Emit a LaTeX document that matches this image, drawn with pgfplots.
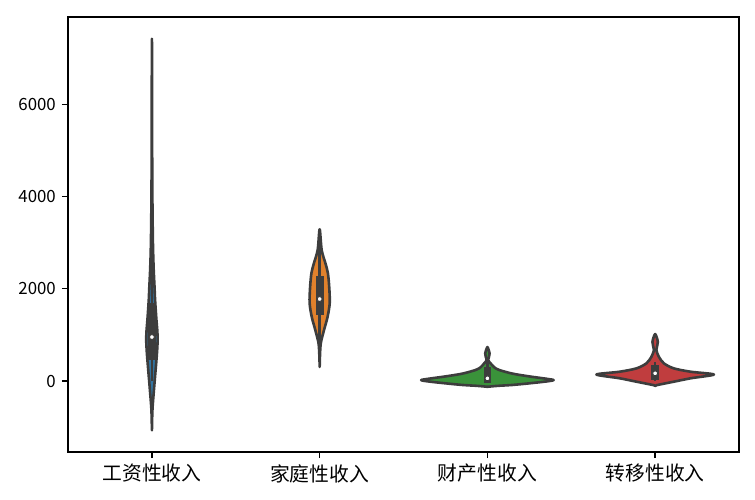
\documentclass[border=0pt]{standalone}
\usepackage{fontspec}
\setmainfont{Noto Sans CJK SC}
\usepackage{pgfplots}
\pgfplotsset{compat=1.18}
\definecolor{vgray}{RGB}{61,61,61}
\definecolor{vblue}{HTML}{3274A1}
\definecolor{vorange}{HTML}{E1812C}
\definecolor{vgreen}{HTML}{3A923A}
\definecolor{vred}{HTML}{C03D3E}
\begin{document}
\begin{tikzpicture}
\begin{axis}[
  at={(0,0)}, anchor=south west,
  scale only axis, width=386.5pt, height=250.6pt,
  xmin=-0.5, xmax=3.5, ymin=-1540, ymax=7893,
  xtick={0,1,2,3},
  xticklabels={工资性收入,家庭性收入,财产性收入,转移性收入},
  ytick={0,2000,4000,6000},
  xtick pos=bottom, ytick pos=left,
  tick align=outside, major tick length=3.5pt,
  every tick/.style={black, line width=0.8pt},
  axis line style={black, line width=0.8pt},
  /pgf/number format/assume math mode=true,
  /pgf/number format/1000 sep={},
  yticklabel style={font=\fontsize{9.7}{11}\selectfont},
  xticklabel style={font=\fontsize{11.4}{13}\selectfont},
  clip=true,
]
% violin 1
\addplot[fill=vblue, draw=vgray, line width=1.5pt, line join=round, smooth] coordinates {
(0,-1068) (-0.003,-630) (-0.012,-195) (-0.022,240) (-0.030,600) (-0.034,890) (-0.032,1100) (-0.027,1320) (-0.019,1750) (-0.016,2000) (-0.010,2470) (-0.006,3000) (-0.003,3900) (-0.0015,5000) (-0.0008,6500) (0,7422)
(0.0008,6500) (0.0015,5000) (0.003,3900) (0.006,3000) (0.010,2470) (0.016,2000) (0.019,1750) (0.027,1320) (0.032,1100) (0.034,890) (0.030,600) (0.022,240) (0.012,-195) (0.003,-630) (0,-1068)
} -- cycle;
% violin 2
\addplot[fill=vorange, draw=vgray, line width=1.5pt, line join=round, smooth] coordinates {
(1,304) (0.998,564) (0.993,824) (0.974,1106) (0.953,1388) (0.940,1691) (0.943,2038) (0.951,2342) (0.966,2558) (0.988,2840) (1,3290)
(1.012,2840) (1.034,2558) (1.049,2342) (1.057,2038) (1.060,1691) (1.047,1388) (1.026,1106) (1.007,824) (1.002,564) (1,304)
} -- cycle;
% violin 3
\addplot[fill=vgreen, draw=vgray, line width=1.5pt, line join=round, smooth] coordinates {
(2,-125) (1.94,-105) (1.85,-85) (1.75,-50) (1.65,-10) (1.605,20) (1.65,50) (1.75,100) (1.85,160) (1.93,240) (1.96,300) (1.98,380) (1.995,450) (1.990,530) (1.987,600) (1.992,670) (2,737)
(2.008,670) (2.013,600) (2.010,530) (2.005,450) (2.02,380) (2.04,300) (2.07,240) (2.15,160) (2.25,100) (2.35,50) (2.395,20) (2.35,-10) (2.25,-50) (2.15,-85) (2.06,-105) (2,-125)
} -- cycle;
% violin 4
\addplot[fill=vred, draw=vgray, line width=1.5pt, line join=round, smooth] coordinates {
(3,-108) (2.988,-87) (2.889,-15) (2.789,59) (2.650,141) (2.789,202) (2.889,275) (2.948,384) (2.978,527) (2.993,672) (2.988,760) (2.984,846) (2.990,940) (3,1019)
(3.010,940) (3.016,846) (3.012,760) (3.007,672) (3.022,527) (3.052,384) (3.111,275) (3.211,202) (3.350,141) (3.211,59) (3.111,-15) (3.012,-87) (3,-108)
} -- cycle;
% whiskers
\addplot[vgray, line width=1.5pt] coordinates {(0,0) (0,3197)};
\addplot[vgray, line width=1.5pt] coordinates {(1,700) (1,2950)};
\addplot[vgray, line width=1.5pt] coordinates {(2,0) (2,430)};
\addplot[vgray, line width=1.5pt] coordinates {(3,0) (3,412)};
% boxes
\addplot[vgray, line width=4.5pt, line cap=rect] coordinates {(0,542) (0,1604)};
\addplot[vgray, line width=4.5pt, line cap=rect] coordinates {(1,1518) (1,2190)};
\addplot[vgray, line width=4.5pt, line cap=rect] coordinates {(2,37) (2,210)};
\addplot[vgray, line width=4.5pt, line cap=rect] coordinates {(3,108) (3,260)};
% medians
\addplot[only marks, mark=*, mark size=1.4pt, mark options={fill=white, draw=vgray, line width=0.5pt}] coordinates {(0,954) (1,1778) (2,58) (3,167)};
\end{axis}
\pgfresetboundingbox
\path (-39.2pt,-27.6pt) rectangle (395.7pt,260.4pt);
\end{tikzpicture}
\end{document}
